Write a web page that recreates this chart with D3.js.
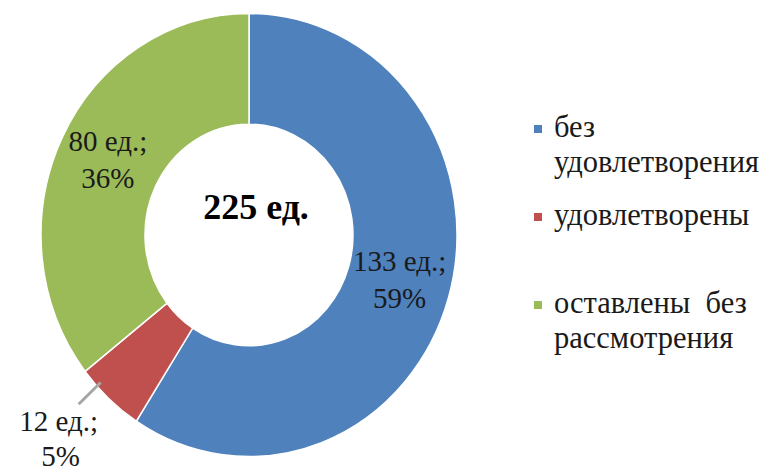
<!DOCTYPE html>
<html>
<head>
	<meta charset="utf-8">
	<title>D3</title>
	<script src="https://d3js.org/d3.v7.min.js"></script>
	<style>
		html, body {
			margin: 0;
			background: #fff;
		}
	</style>
</head>
<body>
	<svg id="svg"></svg>
	<script>
		const categories = ["без удовлетворения", "удовлетворены", "оставлены без рассмотрения"];
		const values = [133, 12, 80];
		const percents = ["59%", "5%", "36%"];
		const legendLines = [["без", "удовлетворения"], ["удовлетворены"], ["оставлены  без", "рассмотрения"]];
		const totalLabel = "225 ед.";
		const colors = ["#4f81bd", "#c0504d", "#9bbb59"];

		const width = 768, height = 473;
		const cx = 249, cy = 235;
		const sy = 1.065;
		const outerR = 208, innerR = 104;
		const font = "Liberation Serif";

		const svg = d3.select("#svg")
		.attr("width", width)
		.attr("height", height);

		const pie = d3.pie().sort(null).value(d => d);
		const arcs = pie(values);

		const arc = d3.arc().innerRadius(innerR).outerRadius(outerR);

		const donut = svg.append("g")
		.attr("transform", `translate(${cx}, ${cy}) scale(1, ${sy})`);

		donut.selectAll("path")
		.data(arcs)
		.enter()
		.append("path")
		.attr("d", arc)
		.attr("fill", (d, i) => colors[i])
		.attr("stroke", "#fff")
		.attr("stroke-width", 1.5);

		// data labels, the small slice gets its label outside with a leader line
		const labelArc = d3.arc().innerRadius(157).outerRadius(157);
		const outArc = d3.arc().innerRadius(272).outerRadius(272);

		const labels = svg.append("g");
		arcs.forEach((d, i) => {
			const inside = i !== 1;
			const [px, py] = (inside ? labelArc : outArc).centroid(d);
			const x = cx + px + (inside ? 0 : -7);
			const y = cy + py * sy + (inside ? 0 : -7);
			const t = labels.append("text")
			.style("font-family", font)
			.attr("text-anchor", "middle")
			.attr("font-size", 29)
			.attr("fill", "#1a1a1a");
			t.append("tspan").attr("x", x).attr("y", y - 11).text(`${values[i]} ед.;`);
			t.append("tspan").attr("x", x + (inside ? 0 : 2)).attr("y", y + (inside ? 26 : 24)).text(percents[i]);

			if (!inside) {
				const a = (d.startAngle + d.endAngle) / 2 + 0.08;
				svg.append("line")
				.attr("x1", cx + Math.sin(a) * 203)
				.attr("y1", cy - Math.cos(a) * 203 * sy)
				.attr("x2", cx + Math.sin(a) * 233)
				.attr("y2", cy - Math.cos(a) * 233 * sy)
				.attr("stroke", "#a6a6a6")
				.attr("stroke-width", 3);
			}
		});

		svg.append("text")
		.style("font-family", font)
		.attr("x", cx + 7)
		.attr("y", 219)
		.attr("text-anchor", "middle")
		.attr("font-size", 36)
		.attr("font-weight", "bold")
		.attr("fill", "#000")
		.text(totalLabel);

		// legend
		const legendRows = [137, 225, 313];
		const legend = svg.append("g");
		categories.forEach((c, i) => {
			legend.append("rect")
			.attr("x", 534)
			.attr("y", legendRows[i] - 12)
			.attr("width", 8)
			.attr("height", 8)
			.attr("fill", colors[i]);
			const t = legend.append("text")
			.style("font-family", font)
			.style("white-space", "pre")
			.attr("font-size", 30.5)
			.attr("fill", "#1a1a1a");
			legendLines[i].forEach((line, j) => {
				t.append("tspan")
				.attr("x", 554)
				.attr("y", legendRows[i] + j * 35)
				.text(line);
			});
		});
	</script>
</body>
</html>
